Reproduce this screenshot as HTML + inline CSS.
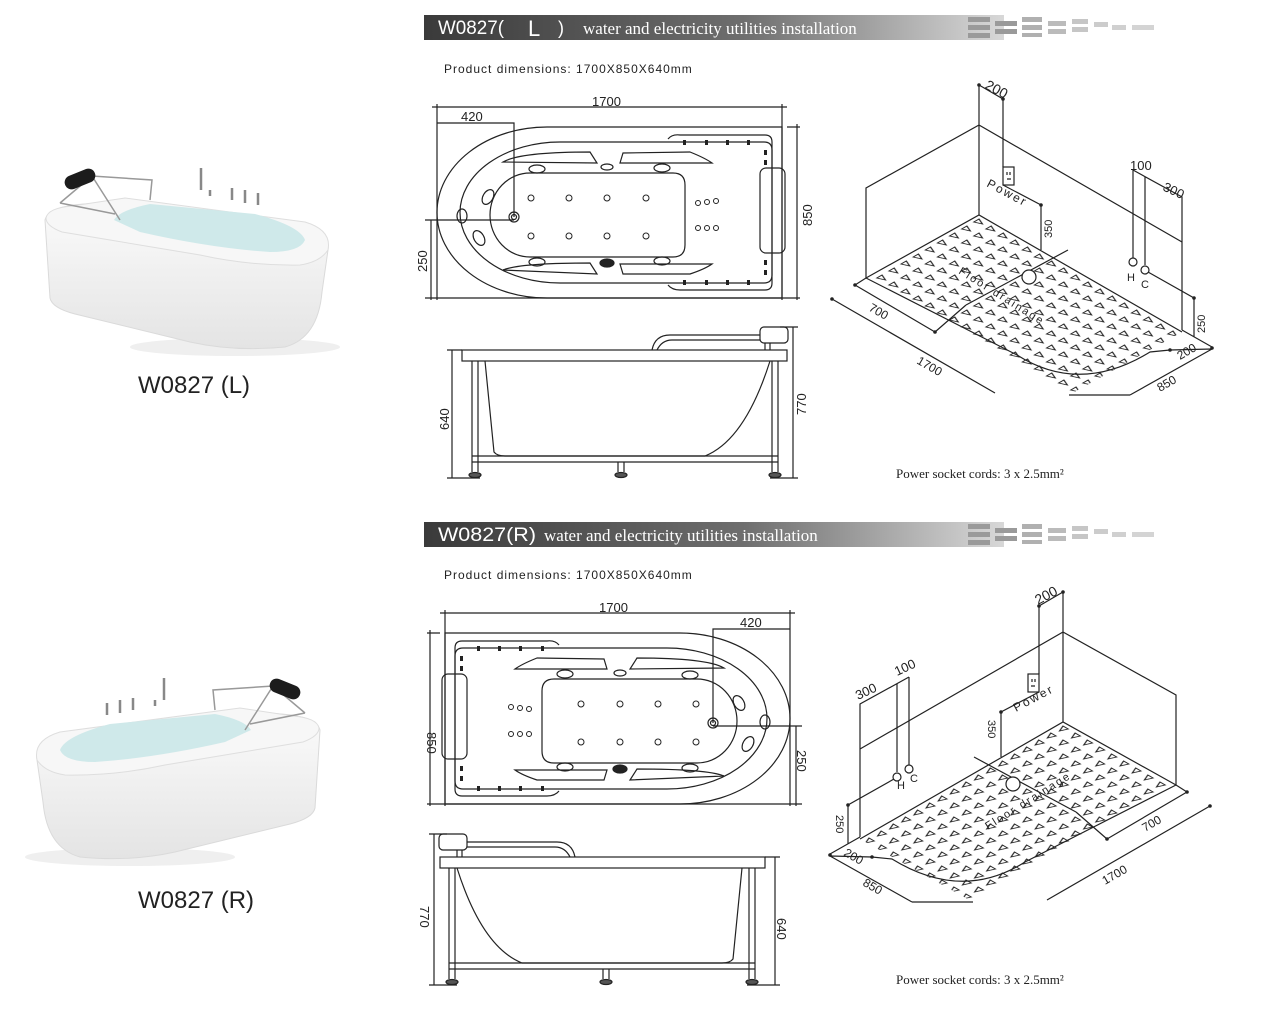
<!DOCTYPE html>
<html><head><meta charset="utf-8"><style>
html,body{margin:0;padding:0;background:#fff;}
svg{display:block}
.t{font-family:"Liberation Sans",sans-serif;fill:#222}
.s{font-family:"Liberation Serif",serif;fill:#222}
.n{font-family:"Liberation Sans Narrow","Liberation Sans",sans-serif}
</style></head><body>
<svg width="1280" height="1010" viewBox="0 0 1280 1010" xmlns="http://www.w3.org/2000/svg">
<defs>
<linearGradient id="hb" x1="0" x2="1" y1="0" y2="0">
<stop offset="0" stop-color="#3a3a3a"/><stop offset="0.55" stop-color="#6e6e6e"/><stop offset="1" stop-color="#d8d8d8"/></linearGradient>
<linearGradient id="body" x1="0" x2="0" y1="0" y2="1">
<stop offset="0" stop-color="#fbfbfb"/><stop offset="1" stop-color="#e4e4e4"/></linearGradient>
<pattern id="tri" width="14" height="14" patternUnits="userSpaceOnUse" patternTransform="matrix(0.866 0.5 -0.866 0.5 979 215)">
<path d="M4,4 L11,7 L4,10 Z" fill="none" stroke="#222" stroke-width="1.1"/></pattern>

<g id="header">
<rect x="424" y="15" width="580" height="25" fill="url(#hb)"/>
<g fill="#9a9a9a">
<rect x="968" y="17" width="22" height="5"/><rect x="968" y="25" width="22" height="5"/><rect x="968" y="33" width="22" height="5"/>
<rect x="995" y="21" width="22" height="5"/><rect x="995" y="29" width="22" height="5"/>
<rect x="1022" y="17" width="20" height="5" fill="#b0b0b0"/><rect x="1022" y="25" width="20" height="5" fill="#b0b0b0"/><rect x="1022" y="33" width="20" height="4" fill="#b0b0b0"/>
<rect x="1048" y="21" width="18" height="5" fill="#bbb"/><rect x="1048" y="29" width="18" height="5" fill="#bbb"/>
<rect x="1072" y="19" width="16" height="5" fill="#c6c6c6"/><rect x="1072" y="27" width="16" height="5" fill="#c6c6c6"/>
<rect x="1094" y="22" width="14" height="5" fill="#ccc"/><rect x="1112" y="25" width="14" height="5" fill="#d0d0d0"/><rect x="1132" y="25" width="22" height="5" fill="#d4d4d4"/>
</g></g>

<g id="plan" fill="none" stroke="#222" stroke-width="1.2">
<path d="M437,104 V300 M782,104 V300 M432,107 H787 M437,123 H514 V217 M431,220 V300 M425,298 H800 M787,127 H800 M797,124 V300 M425,220 H514"/>
<path d="M547,127 H782 V298 H547 A110 85.5 0 0 1 547,127 Z"/>
<path d="M560,142 H764 Q772,142 772,150 V275 Q772,283 764,283 H560 A100 70.5 0 0 1 560,142 Z"/>
<path d="M530,173 H673 Q685,173 685,185 V245 Q685,257 673,257 H530 A40 42 0 0 1 530,173 Z"/>
<path d="M503,162 Q520,152 590,152 L597,163 Z M623,153 L690,152 Q705,158 712,163 L620,163 Z M503,270 Q520,263 590,263 L597,274 Z M620,264 L712,264 Q705,269 690,274 L623,274 Z"/>
<path d="M668,139 Q672,134 680,135 H765 Q772,135 772,142 V283 Q772,290 765,290 H680 Q672,290 668,285"/>
<rect x="760" y="168" width="25" height="85" rx="6"/>
<ellipse cx="537" cy="169" rx="8" ry="4"/><ellipse cx="607" cy="167" rx="6" ry="3"/><ellipse cx="662" cy="168" rx="8" ry="4"/>
<ellipse cx="537" cy="262" rx="8" ry="4"/><ellipse cx="607" cy="263" rx="7" ry="4" fill="#222"/><ellipse cx="662" cy="261" rx="8" ry="4"/>
<ellipse cx="488" cy="197" rx="5" ry="8" transform="rotate(30 488 197)"/><ellipse cx="462" cy="216" rx="5" ry="7"/><ellipse cx="479" cy="238" rx="5" ry="8" transform="rotate(-30 479 238)"/>
<circle cx="514" cy="217" r="5"/><circle cx="514" cy="217" r="2.5"/>
<g stroke-width="1"><circle cx="531" cy="198" r="3"/><circle cx="569" cy="198" r="3"/><circle cx="607" cy="198" r="3"/><circle cx="646" cy="198" r="3"/>
<circle cx="531" cy="236" r="3"/><circle cx="569" cy="236" r="3"/><circle cx="607" cy="236" r="3"/><circle cx="646" cy="236" r="3"/>
<circle cx="698" cy="203" r="2.5"/><circle cx="707" cy="202" r="2.5"/><circle cx="716" cy="201" r="2.5"/>
<circle cx="698" cy="228" r="2.5"/><circle cx="707" cy="228" r="2.5"/><circle cx="716" cy="228" r="2.5"/></g>
<g fill="#222" stroke="none"><rect x="683" y="140" width="3" height="5"/><rect x="705" y="140" width="3" height="5"/><rect x="726" y="140" width="3" height="5"/><rect x="747" y="140" width="3" height="5"/><rect x="764" y="150" width="3" height="5"/><rect x="764" y="160" width="3" height="5"/>
<rect x="683" y="280" width="3" height="5"/><rect x="705" y="280" width="3" height="5"/><rect x="726" y="280" width="3" height="5"/><rect x="747" y="280" width="3" height="5"/><rect x="764" y="270" width="3" height="5"/><rect x="764" y="260" width="3" height="5"/></g>
</g>

<g id="side" fill="none" stroke="#222" stroke-width="1.2">
<path d="M452,350 V478 M447,350 H462 M447,478 H480 M793,327 V478 M780,327 H798 M770,478 H798"/>
<rect x="462" y="350" width="325" height="11"/>
<path d="M485,361 L494,452 Q497,456 505,456 H705 Q745,440 770,361"/>
<path d="M472,361 V472 M478,361 V472 M772,361 V472 M778,361 V472 M472,456 H778 M472,462 H778 M618,462 V472 M624,462 V472"/>
<path d="M652,350 Q655,335 670,335 H760 M657,350 Q662,340 672,340 H760"/>
<rect x="760" y="327" width="28" height="16" rx="4"/><path d="M765,343 V350 M770,343 V350"/>
<ellipse cx="475" cy="475" rx="6" ry="2.5" fill="#555"/><ellipse cx="621" cy="475" rx="6" ry="2.5" fill="#555"/><ellipse cx="775" cy="475" rx="6" ry="2.5" fill="#555"/>
</g>

<g id="iso" fill="none" stroke="#222" stroke-width="1.2">
<path d="M866,278 L979,215 L1182,332 L1069,395 Z" fill="url(#tri)" stroke="none"/>
<path d="M866,278 L979,215 L1182,332" />
<path d="M979,85 V215 M979,125 L866,188 V278 M979,125 L1182,242 M979,85 L1003,99 V167 M1003,185 L1041,205 V250"/>
<rect x="1003" y="167" width="11" height="18" fill="#fff"/>
<path d="M1007,172 v3 M1010,172 v3 M1007,179 h4"/>
<path d="M866,278 L1017,355 M966,305 L1068,250 M1017,355 Q1080,395 1150,352 L1170,350"/>
<circle cx="1029" cy="277" r="7" fill="#fff"/>
<path d="M1133,170 V258 M1145,177 V265 M1133,170 L1182,197 V330 M1148,272 L1194,298 V337 M1182,330 L1212,347 M1069,395 L1130,395"/>
<path d="M1130,395 L1212,349 M1170,350 L1212,349"/>
<circle cx="1133" cy="262" r="4" fill="#fff"/><circle cx="1145" cy="270" r="4" fill="#fff"/>
<path d="M832,299 L995,393 M855,285 L935,332 M866,278 L855,285 M935,332 L966,305"/>
<g fill="#222" stroke="none"><circle cx="979" cy="85" r="1.8"/><circle cx="1003" cy="99" r="1.8"/><circle cx="1041" cy="205" r="1.8"/><circle cx="832" cy="299" r="1.8"/><circle cx="855" cy="285" r="1.8"/><circle cx="935" cy="332" r="1.8"/><circle cx="1212" cy="348" r="1.8"/><circle cx="1194" cy="298" r="1.8"/><circle cx="1170" cy="350" r="1.8"/></g>
</g>

<g id="photo">
<ellipse cx="235" cy="347" rx="105" ry="9" fill="#efefef"/>
<path d="M45,220 L50,298 Q52,308 75,314 L190,342 Q235,352 285,347 Q318,338 322,292 L328,250 Q330,232 305,226 L125,204 Q50,200 45,220 Z" fill="url(#body)" stroke="#dadada"/>
<path d="M46,218 Q48,208 72,206 L125,198 L305,222 Q332,230 328,250 Q320,262 300,265 Q250,266 200,255 L62,232 Q46,226 46,218 Z" fill="#f7f7f7" stroke="#dedede"/>
<path d="M114,220 Q120,210 150,204 L255,214 Q300,226 305,240 Q300,252 270,252 Q210,248 140,232 Z" fill="#cfe9ea"/>
<path d="M60,203 L92,176 L152,180 L150,200 M92,176 L120,220 M60,203 L115,214" stroke="#999" stroke-width="1.5" fill="none"/>
<rect x="64" y="172" width="32" height="14" rx="7" fill="#1c1c1c" transform="rotate(-22 80 179)"/>
<g stroke="#888" stroke-width="2.5"><path d="M201,168 V190"/><path d="M232,188 V200 M245,190 V203 M258,193 V205 M210,190 V196"/></g>
</g>
</defs>

<!-- L section -->
<use href="#header"/>
<text x="438" y="34" class="n" font-size="19" textLength="66" lengthAdjust="spacingAndGlyphs" style="fill:#fff">W0827(</text>
<text x="528" y="36" class="t" font-size="22" style="fill:#fff">L</text>
<text x="558" y="34" class="t" font-size="18" style="fill:#fff">)</text>
<text x="583" y="34" class="s" font-size="17" style="fill:#fff">water and electricity utilities installation</text>
<text x="444" y="73" class="n" font-size="12" letter-spacing="1" fill="#222">Product dimensions: 1700X850X640mm</text>
<use href="#plan"/>
<text x="592" y="106" class="t" font-size="13">1700</text>
<text x="461" y="121" class="t" font-size="13">420</text>
<text x="812" y="226" class="t" font-size="13" transform="rotate(-90 812 226)">850</text>
<text x="427" y="272" class="t" font-size="13" transform="rotate(-90 427 272)">250</text>
<use href="#side"/>
<text x="449" y="430" class="t" font-size="13" transform="rotate(-90 449 430)">640</text>
<text x="806" y="415" class="t" font-size="13" transform="rotate(-90 806 415)">770</text>
<use href="#iso"/>
<text x="984" y="88" class="t" font-size="14" transform="rotate(28 984 88)">200</text>
<text x="1130" y="170" class="t" font-size="13">100</text>
<text x="1162" y="190" class="t" font-size="13" transform="rotate(25 1162 190)">300</text>
<text x="986" y="186" class="t" font-size="12" letter-spacing="2" transform="rotate(28 986 186)">Power</text>
<text x="1052" y="238" class="t" font-size="11" transform="rotate(-90 1052 238)">350</text>
<text x="958" y="273" class="t" font-size="11" letter-spacing="2" transform="rotate(32 958 273)">Floor drainage</text>
<text x="1127" y="281" class="t" font-size="11">H</text><text x="1141" y="288" class="t" font-size="11">C</text>
<text x="868" y="310" class="t" font-size="12" transform="rotate(30 868 310)">700</text>
<text x="916" y="363" class="t" font-size="12" transform="rotate(30 916 363)">1700</text>
<text x="1205" y="333" class="t" font-size="11" transform="rotate(-90 1205 333)">250</text>
<text x="1180" y="360" class="t" font-size="12" transform="rotate(-30 1180 360)">200</text>
<text x="1160" y="392" class="t" font-size="12" transform="rotate(-30 1160 392)">850</text>
<text x="896" y="478" class="s" font-size="13">Power socket cords: 3 x 2.5mm²</text>
<use href="#photo"/>
<text x="138" y="393" class="t" font-size="24">W0827 (L)</text>

<!-- R section -->
<use href="#header" transform="translate(0,507)"/>
<text x="438" y="541" class="n" font-size="19" textLength="98" lengthAdjust="spacingAndGlyphs" style="fill:#fff">W0827(R)</text>
<text x="544" y="541" class="s" font-size="17" style="fill:#fff">water and electricity utilities installation</text>
<text x="444" y="579" class="n" font-size="12" letter-spacing="1" fill="#222">Product dimensions: 1700X850X640mm</text>
<use href="#plan" transform="translate(1227,506) scale(-1,1)"/>
<text x="599" y="612" class="t" font-size="13">1700</text>
<text x="740" y="627" class="t" font-size="13">420</text>
<text x="427" y="732" class="t" font-size="13" transform="rotate(90 427 732)">850</text>
<text x="797" y="750" class="t" font-size="13" transform="rotate(90 797 750)">250</text>
<use href="#side" transform="translate(1227,507) scale(-1,1)"/>
<text x="420" y="906" class="t" font-size="13" transform="rotate(90 420 906)">770</text>
<text x="777" y="918" class="t" font-size="13" transform="rotate(90 777 918)">640</text>
<use href="#iso" transform="translate(2042,507) scale(-1,1)"/>
<text x="1038" y="605" class="t" font-size="14" transform="rotate(-28 1038 605)">200</text>
<text x="897" y="676" class="t" font-size="13" transform="rotate(-25 897 676)">100</text>
<text x="858" y="700" class="t" font-size="13" transform="rotate(-25 858 700)">300</text>
<text x="1016" y="712" class="t" font-size="12" letter-spacing="2" transform="rotate(-28 1016 712)">Power</text>
<text x="988" y="720" class="t" font-size="11" transform="rotate(90 988 720)">350</text>
<text x="988" y="830" class="t" font-size="11" letter-spacing="2" transform="rotate(-32 988 830)">Floor drainage</text>
<text x="897" y="789" class="t" font-size="11">H</text><text x="910" y="782" class="t" font-size="11">C</text>
<text x="1145" y="832" class="t" font-size="12" transform="rotate(-30 1145 832)">700</text>
<text x="1105" y="885" class="t" font-size="12" transform="rotate(-30 1105 885)">1700</text>
<text x="836" y="815" class="t" font-size="11" transform="rotate(90 836 815)">250</text>
<text x="843" y="855" class="t" font-size="12" transform="rotate(30 843 855)">200</text>
<text x="862" y="885" class="t" font-size="12" transform="rotate(30 862 885)">850</text>
<text x="896" y="984" class="s" font-size="13">Power socket cords: 3 x 2.5mm²</text>
<use href="#photo" transform="translate(365,510) scale(-1,1)"/>
<text x="138" y="908" class="t" font-size="24">W0827 (R)</text>
</svg>
</body></html>
